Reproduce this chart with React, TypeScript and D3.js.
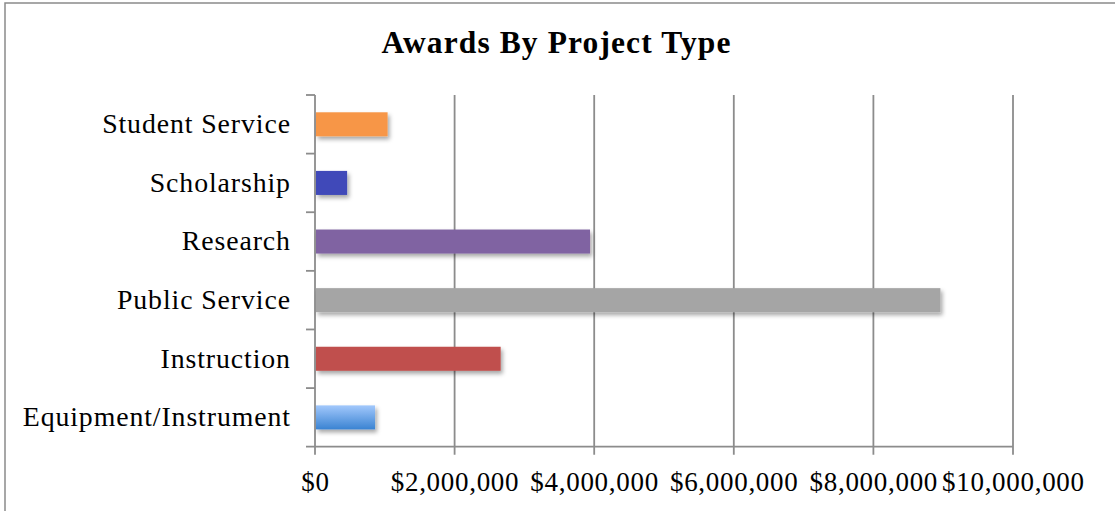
import React from "react";
import * as d3 from "d3";

const categories = [
  "Student Service",
  "Scholarship",
  "Research",
  "Public Service",
  "Instruction",
  "Equipment/Instrument",
];
const values = [1040000, 460000, 3940000, 8960000, 2660000, 860000];
const colors = ["#F79646", "#3F48B9", "#8064A2", "#A5A5A5", "#C0504D", "url(#equipGrad)"];
const tickValues = [0, 2000000, 4000000, 6000000, 8000000, 10000000];
const title = "Awards By Project Type";

const W = 1115;
const H = 511;
const left = 315;
const right = 1013;
const top = 95;
const bottom = 446.7;
const FONT = "'Liberation Serif', 'Times New Roman', serif";

export default function App() {
  const x = d3.scaleLinear().domain([0, 10000000]).range([left, right]);
  const y = d3.scaleBand<string>().domain(categories).range([top, bottom]).paddingInner(0.59).paddingOuter(0.295);
  const band = d3.scaleBand<string>().domain(categories).range([top, bottom]);
  const fmt = (v: number) => "$" + d3.format(",")(v);
  const gridColor = "#8c8c8c";

  return (
    <svg width={W} height={H} style={{ position: "absolute", left: 0, top: 0, background: "#fff" }}>
      <defs>
        <linearGradient id="equipGrad" x1="0" y1="0" x2="0" y2="1">
          <stop offset="0%" stopColor="#A2C8FC" />
          <stop offset="100%" stopColor="#3A83D2" />
        </linearGradient>
        <filter id="shadow" x="-10%" y="-30%" width="130%" height="180%">
          <feDropShadow dx="2" dy="3" stdDeviation="2.2" floodColor="#000" floodOpacity="0.35" />
        </filter>
      </defs>
      <rect x={5} y={3} width={1300} height={700} fill="#fff" stroke="#8a8a8a" strokeWidth={1.5} />
      <text x={556.5} y={53} textAnchor="middle" fontFamily={FONT} fontWeight="bold" fontSize={31.5} letterSpacing={1.1} fill="#000">
        {title}
      </text>
      {tickValues.slice(1).map((t) => (
        <line key={"g" + t} x1={x(t)} x2={x(t)} y1={top} y2={bottom + 8} stroke={gridColor} strokeWidth={1.8} />
      ))}
      <line x1={x(0)} x2={x(0)} y1={top} y2={bottom + 8} stroke={gridColor} strokeWidth={1.8} />
      <line x1={306} x2={right} y1={bottom} y2={bottom} stroke={gridColor} strokeWidth={1.8} />
      {categories.map((c) => (
        <line key={"t" + c} x1={306} x2={x(0)} y1={band(c)!} y2={band(c)!} stroke={gridColor} strokeWidth={1.8} />
      ))}
      {categories.map((c, i) => (
        <rect
          key={"b" + c}
          x={x(0) + 1}
          y={y(c)!}
          width={x(values[i]) - x(0) - 1}
          height={y.bandwidth()}
          fill={colors[i]}
          filter="url(#shadow)"
        />
      ))}
      {categories.map((c) => (
        <text
          key={"l" + c}
          x={290.9}
          y={band(c)! + band.bandwidth() / 2 + 8.8}
          textAnchor="end"
          fontFamily={FONT}
          fontSize={27.8}
          letterSpacing={0.9}
          fill="#000"
        >
          {c}
        </text>
      ))}
      {tickValues.map((t) => (
        <text key={"x" + t} x={x(t) + 0.4} y={491} textAnchor="middle" fontFamily={FONT} fontSize={27} letterSpacing={0.7} fill="#000">
          {fmt(t)}
        </text>
      ))}
    </svg>
  );
}
